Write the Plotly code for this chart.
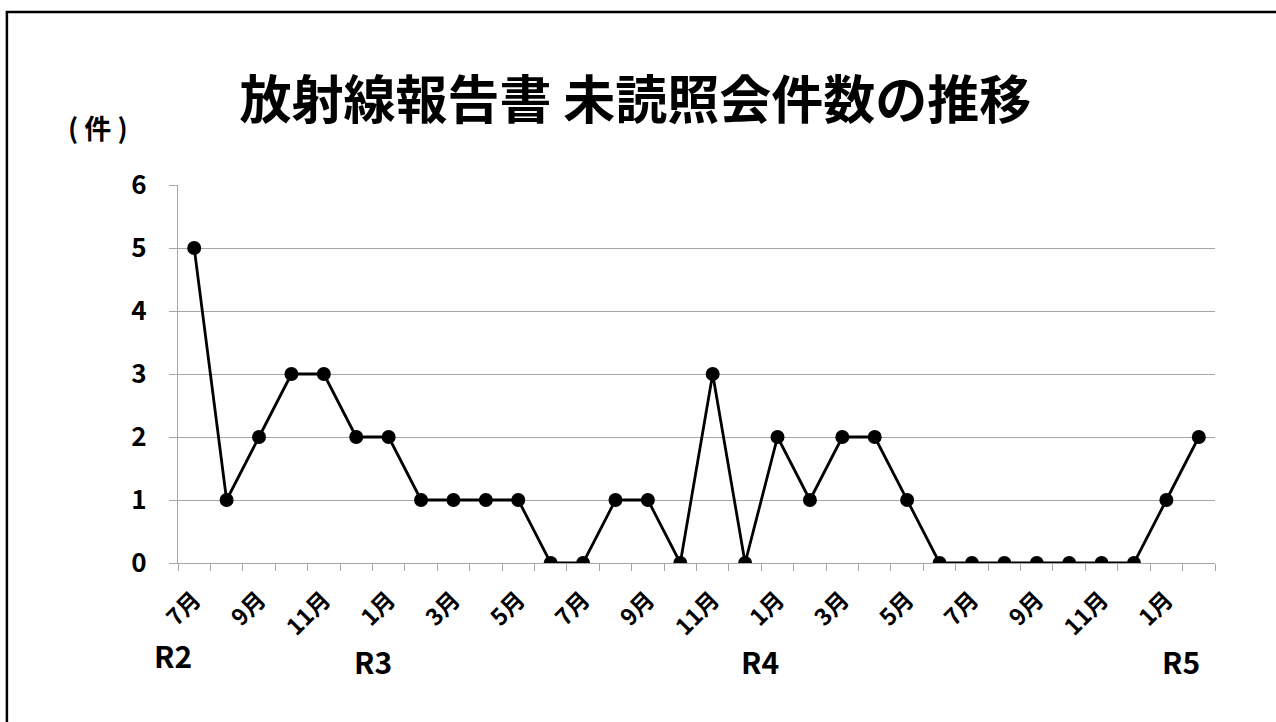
import plotly.graph_objects as go

# Monthly counts, July (R2) through February (R5)
months = ["7月", "8月", "9月", "10月", "11月", "12月",
          "1月", "2月", "3月", "4月", "5月", "6月", "7月", "8月", "9月", "10月", "11月", "12月",
          "1月", "2月", "3月", "4月", "5月", "6月", "7月", "8月", "9月", "10月", "11月", "12月",
          "1月", "2月"]
counts = [5, 1, 2, 3, 3, 2,
          2, 1, 1, 1, 1, 0, 0, 1, 1, 0, 3, 0,
          2, 1, 2, 2, 1, 0, 0, 0, 0, 0, 0, 0,
          1, 2]
# Fiscal-era labels and where they sit below the month axis (paper fractions)
era_labels = ["R2", "R3", "R4", "R5"]
era_x = [-0.005, 0.188, 0.561, 0.967]
era_y = [-0.243, -0.259, -0.259, -0.259]

y_ticks = [0, 1, 2, 3, 4, 5, 6]
x_idx = list(range(len(counts)))
label_idx = x_idx[::2]
label_text = [months[i] for i in label_idx]

FONT = "Noto Sans CJK JP"
GRID = "#a6a6a6"

fig = go.Figure()
fig.add_trace(go.Scatter(
    x=x_idx, y=counts, mode="lines+markers",
    line=dict(color="black", width=2.8),
    marker=dict(color="black", size=14),
    showlegend=False, hoverinfo="skip",
))

for t, xp, yp in zip(era_labels, era_x, era_y):
    fig.add_annotation(x=xp, y=yp, xref="paper", yref="paper", text=t, showarrow=False,
                       font=dict(family=FONT, size=30, color="black", weight=700),
                       xanchor="center", yanchor="middle")

fig.add_annotation(x=-0.077, y=1.151, xref="paper", yref="paper", text="( 件 )",
                   showarrow=False, xanchor="center", yanchor="middle",
                   font=dict(family=FONT, size=27, color="black", weight=700))

# outer frame of the chart area
fig.add_shape(type="rect", xref="paper", yref="paper",
              x0=-0.165, x1=1.2, y0=-0.6, y1=1.458,
              line=dict(color="black", width=2.5), fillcolor="rgba(0,0,0,0)", layer="below")

fig.update_layout(
    width=1276, height=722,
    margin=dict(l=178, r=61, t=185, b=159),
    paper_bgcolor="white", plot_bgcolor="white",
    title=dict(text="放射線報告書 未読照会件数の推移", x=0.498, y=0.861,
               xanchor="center", yanchor="middle",
               font=dict(family=FONT, size=52, color="black", weight=700)),
    font=dict(family=FONT, color="black"),
)
fig.update_xaxes(
    range=[-0.5, len(counts) - 0.5], showgrid=False, zeroline=False,
    showline=True, linecolor=GRID, linewidth=1.3,
    tickmode="array", tickvals=label_idx, ticktext=label_text,
    tickangle=-45, ticks="", ticklabelstandoff=13,
    tickfont=dict(family=FONT, size=23, color="black", weight=700),
    minor=dict(tickmode="linear", tick0=-0.5, dtick=1, ticks="outside",
               ticklen=7, tickcolor=GRID, tickwidth=1.3, showgrid=False),
)
fig.update_yaxes(
    range=[0, 6], tickvals=y_ticks, showgrid=True, gridcolor=GRID, gridwidth=1.3,
    zeroline=False, showline=True, linecolor=GRID, linewidth=1.3,
    ticks="outside", ticklen=8, tickcolor=GRID, tickwidth=1.3,
    tickfont=dict(family=FONT, size=26, color="black", weight=700),
    ticklabelstandoff=17,
)

fig.write_html("out.html")
